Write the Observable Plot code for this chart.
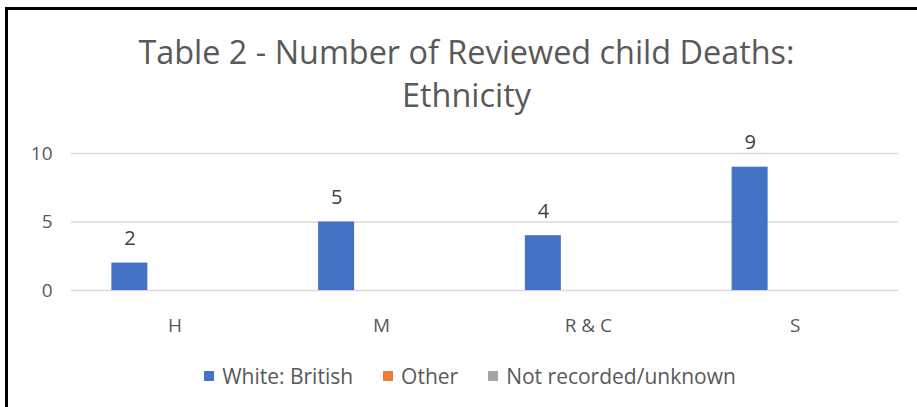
<!DOCTYPE html>
<html>
<head>
<meta charset="utf-8">
<script src="https://cdn.jsdelivr.net/npm/d3@7"></script>
<script src="https://cdn.jsdelivr.net/npm/@observablehq/plot@0.6"></script>
<style>
  html, body { margin: 0; padding: 0; background: #fff; width: 917px; height: 407px; overflow: hidden; }
  body { position: relative; font-family: "Open Sans", sans-serif; }
  #frame { position: absolute; left: 5px; top: 7px; width: 940px; height: 440px; border-left: 3px solid #000; border-top: 3px solid #000; box-sizing: border-box; }
  #title { position: absolute; left: 8px; width: 917px; top: 30px; text-align: center; font-size: 32.4px; line-height: 43px; color: #595959; }
  #chart { position: absolute; left: 0; top: 0; }
  #legend { position: absolute; left: 0; width: 940px; top: 362px; display: flex; justify-content: center; align-items: center; gap: 30px; font-size: 21px; color: #595959; }
  .item { display: flex; align-items: center; gap: 8px; }
  .sw { width: 10px; height: 10px; display: inline-block; }
</style>
</head>
<body>
<div id="frame"></div>
<div id="title">Table 2 - Number of Reviewed child Deaths:<br>Ethnicity</div>
<div id="chart"></div>
<div id="legend"></div>
<script>
const categories = ["H", "M", "R & C", "S"];
const seriesNames = ["White: British", "Other", "Not recorded/unknown"];
const whiteBritish = [2, 5, 4, 9];
const other = [null, null, null, null];
const notRecorded = [null, null, null, null];
const colors = ["#4472C4", "#ED7D31", "#A5A5A5"];
const yTicks = [0, 5, 10];

const seriesValues = [whiteBritish, other, notRecorded];
const data = [];
categories.forEach((c, i) => {
  seriesNames.forEach((s, j) => {
    data.push({category: c, series: s, value: seriesValues[j][i]});
  });
});
const valued = data.filter(d => d.value != null);

const chart = Plot.plot({
  width: 917,
  height: 340,
  marginTop: 153,
  marginBottom: 50,
  marginLeft: 71,
  marginRight: 19,
  style: {fontFamily: "'Open Sans', sans-serif", background: "transparent"},
  fx: {domain: categories, padding: 0, round: false, label: null, axis: null},
  x: {domain: seriesNames, paddingInner: 0.2, paddingOuter: 0.897, round: false, axis: null},
  y: {domain: [0, 10], axis: null},
  color: {domain: seriesNames, range: colors},
  marks: [
    Plot.gridY(yTicks, {stroke: "#d9d9d9", strokeOpacity: 1, strokeWidth: 1.5}),
    Plot.axisY(yTicks, {tickSize: 0, tickPadding: 19, fontSize: 19, fill: "#595959", label: null, tickFormat: d => d}),
    Plot.axisFx({anchor: "bottom", tickSize: 0, tickPadding: 28, fontSize: 19, fill: "#595959", label: null}),
    Plot.barY(valued, {fx: "category", x: "series", y: "value", fill: "series"}),
    Plot.text(valued, {fx: "category", x: "series", y: "value", text: d => String(d.value), dy: -18, lineAnchor: "bottom", fontSize: 20, fill: "#404040"})
  ]
});
document.getElementById("chart").appendChild(chart);

const legend = document.getElementById("legend");
seriesNames.forEach((s, j) => {
  const item = document.createElement("div");
  item.className = "item";
  const sw = document.createElement("span");
  sw.className = "sw";
  sw.style.background = colors[j];
  const t = document.createElement("span");
  t.textContent = s;
  item.appendChild(sw);
  item.appendChild(t);
  legend.appendChild(item);
});
</script>
</body>
</html>
